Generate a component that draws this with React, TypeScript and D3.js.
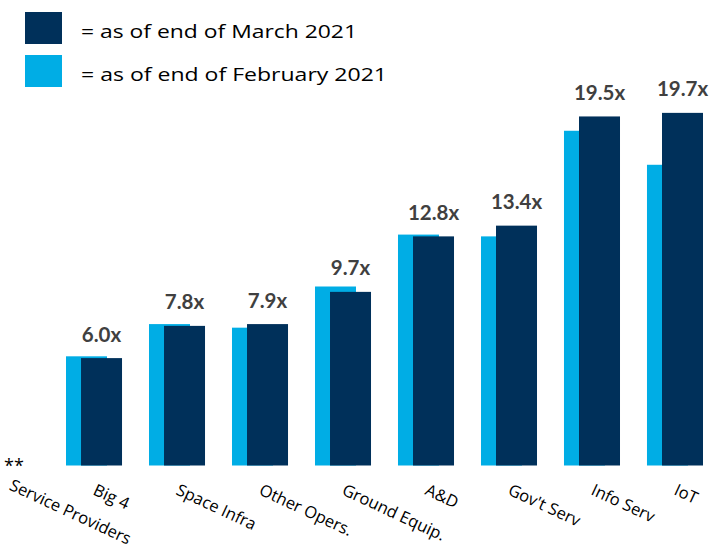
import React from "react";
import { scaleBand, scaleLinear } from "d3";

// categories (first one is split over two lines)
const categories = ["Big 4", "Space Infra", "Other Opers.", "Ground Equip.", "A&D", "Gov't Serv", "Info Serv", "IoT"];
const marchValues = [6.0, 7.8, 7.9, 9.7, 12.8, 13.4, 19.5, 19.7];
const februaryValues = [6.1, 7.9, 7.7, 10.0, 12.9, 12.8, 18.7, 16.8];
const valueLabels = ["6.0x", "7.8x", "7.9x", "9.7x", "12.8x", "13.4x", "19.5x", "19.7x"];
const legendLabels = ["= as of end of March 2021", "= as of end of February 2021"];

const NAVY = "#00305A";
const CYAN = "#00ADE5";
const W = 711;
const H = 552;
const FONT = "'Open Sans', sans-serif";

export default function App() {
  const baseline = 465.5;
  const x = scaleBand<string>().domain(categories).range([66, 703]).paddingInner(0.325).paddingOuter(0);
  const y = scaleLinear().domain([0, 20]).range([baseline, baseline - 358]);
  const barW = 41;
  const shift = x.bandwidth() - barW;
  const angle = 25;

  return (
    <svg width={W} height={H} style={{ position: "absolute", left: 0, top: 0, background: "#fff" }}>
      {/* legend */}
      <rect x={25} y={12} width={37} height={32} fill={NAVY} />
      <rect x={25} y={55} width={37} height={32} fill={CYAN} />
      <text x={81} y={37.5} fontFamily={FONT} fontSize={19} fill="#000" textLength={276} lengthAdjust="spacingAndGlyphs">
        {legendLabels[0]}
      </text>
      <text x={81} y={81} fontFamily={FONT} fontSize={19} fill="#000" textLength={306} lengthAdjust="spacingAndGlyphs">
        {legendLabels[1]}
      </text>

      {/* bars */}
      {categories.map((c, i) => {
        const bx = x(c)!;
        return (
          <g key={c}>
            <rect x={bx} y={y(februaryValues[i])} width={barW} height={baseline - y(februaryValues[i])} fill={CYAN} />
            <rect x={bx + shift} y={y(marchValues[i])} width={barW} height={baseline - y(marchValues[i])} fill={NAVY} />
            <text
              x={bx + shift + barW / 2}
              y={y(marchValues[i]) - 16.5}
              textAnchor="middle"
              fontFamily="Lato"
              fontWeight="bold"
              fontSize={20.5}
              fill="#404040"
            >
              {valueLabels[i]}
            </text>
          </g>
        );
      })}

      {/* category labels */}
      {categories.map((c, i) => {
        const cx = x(c)! + x.bandwidth() / 2 - 2;
        return (
          <g key={c + "-lab"} transform={`translate(${cx},494) rotate(${angle})`}>
            <text x={0} y={0} fontFamily={FONT} fontSize={16.5} fill="#000">{c}</text>
            {i === 0 && (
              <text x={-78} y={31} fontFamily={FONT} fontSize={16.5} fill="#000">Service Providers</text>
            )}
          </g>
        );
      })}

      <text x={4} y={472} fontFamily={FONT} fontSize={18} fill="#000">**</text>
    </svg>
  );
}
